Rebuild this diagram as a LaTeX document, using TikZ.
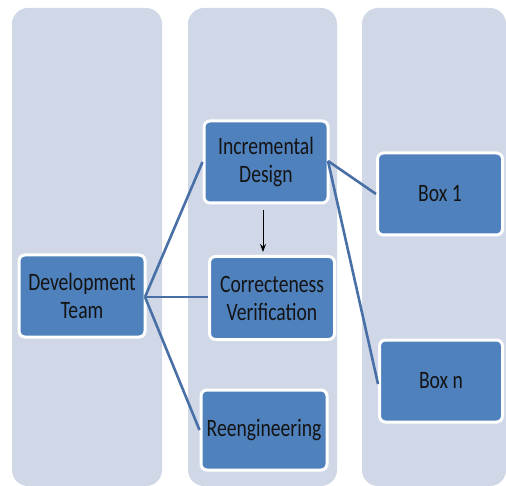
\documentclass[tikz,border=0pt]{standalone}
\usepackage{fontspec}
\setmainfont{Carlito}[FakeStretch=0.785]
\usetikzlibrary{arrows.meta}
\definecolor{lane}{HTML}{D0D8E8}
\definecolor{boxblue}{HTML}{4F81BD}
\definecolor{linkblue}{HTML}{4870A6}
\tikzset{
  lanebox/.style={fill=lane, draw=none, rounded corners=16pt},
  stepbox/.style={fill=boxblue, draw=white, line width=3pt, rounded corners=6pt,
    align=center, inner sep=0pt, text=black!92,
    font=\fontsize{25}{28}\selectfont},
  link/.style={draw=linkblue, line width=2.6pt},
}
\begin{document}
\begin{tikzpicture}[x=1pt, y=-1pt]
  \useasboundingbox (0,0) rectangle (506,486);
  \begin{scope}
    \clip (0,0) rectangle (506,486);
    % swim lanes
    \path[lanebox] (12,8) rectangle (162,486);
    \path[lanebox] (188,8) rectangle (337,486);
    \path[lanebox] (362,8) rectangle (506,486);
  \end{scope}
  % process boxes
  \node[stepbox, minimum width=126pt, minimum height=82pt] (dev) at (82,296) {Development\\Team};
  \node[stepbox, minimum width=124pt, minimum height=82pt] (inc) at (266,162) {Incremental\\Design};
  \node[stepbox, minimum width=125pt, minimum height=83pt] (cor) at (272,298) {Correcteness\\Verification};
  \node[stepbox, minimum width=126pt, minimum height=80pt] (ree) at (264,430) {Reengineering};
  \node[stepbox, minimum width=125pt, minimum height=82pt] (b1) at (440,194) {Box 1};
  \node[stepbox, minimum width=123pt, minimum height=82pt] (bn) at (441,381) {Box n};
  % connectors
  \coordinate (hub) at (145,297);
  \draw[link] (hub) -- (inc.west);
  \draw[link] (hub) -- (cor.west |- hub);
  \draw[link] (hub) -- (ree.west);
  \coordinate (incr) at (328,161);
  \draw[link] (incr) -- (b1.west);
  \draw[link] (incr) -- ([yshift=-3pt]bn.west);
  \draw[-{Stealth[length=8pt,width=6pt]}, line width=0.9pt, black]
    ([yshift=-6pt]inc.south -| 263,0) -- ([yshift=3pt]cor.north -| 263,0);
\end{tikzpicture}
\end{document}
